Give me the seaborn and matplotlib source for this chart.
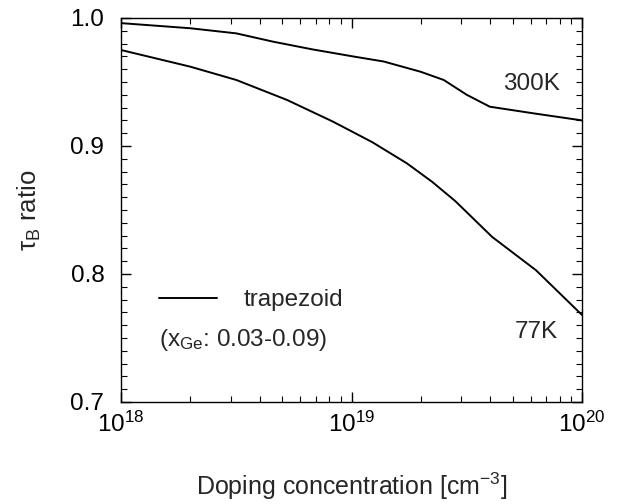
import numpy as np
import pandas as pd
import matplotlib
matplotlib.use("Agg")
import matplotlib.pyplot as plt
import seaborn as sns
from matplotlib.lines import Line2D
from matplotlib.ticker import LogLocator, MultipleLocator

# Data (log10 of doping, tau_B ratio)
log_dop_300 = [18.0, 18.30, 18.50, 18.66, 18.83, 19.006, 19.14, 19.30, 19.40, 19.50, 19.60, 19.79, 20.0]
ratio_300 = [0.996, 0.992, 0.988, 0.9815, 0.9755, 0.970, 0.966, 0.958, 0.9516, 0.940, 0.9307, 0.9255, 0.920]
log_dop_77 = [18.0, 18.30, 18.50, 18.72, 18.92, 19.09, 19.24, 19.35, 19.45, 19.61, 19.80, 20.0]
ratio_77 = [0.975, 0.962, 0.9516, 0.936, 0.919, 0.903, 0.8865, 0.872, 0.857, 0.829, 0.803, 0.768]

df = pd.concat([
    pd.DataFrame({"doping": 10.0 ** np.array(log_dop_300), "ratio": ratio_300, "T": "300K"}),
    pd.DataFrame({"doping": 10.0 ** np.array(log_dop_77), "ratio": ratio_77, "T": "77K"}),
])

sns.set_theme(style="ticks")
plt.rcParams["font.family"] = ["Liberation Sans", "DejaVu Sans"]
plt.rcParams["mathtext.fontset"] = "custom"
plt.rcParams["mathtext.rm"] = "Liberation Sans"
plt.rcParams["mathtext.it"] = "Liberation Sans:italic"

fig = plt.figure(figsize=(6.22, 5.04), dpi=100)
ax = fig.add_axes([121/622, 1 - 402/504, 461/622, 384/504])

sns.lineplot(data=df, x="doping", y="ratio", units="T", estimator=None,
             color="black", linewidth=1.4, ax=ax, legend=False, sort=False)

ax.set_xscale("log")
ax.set_xlim(1e18, 1e20)
ax.set_ylim(0.7, 1.0)
ax.set_yticks([0.7, 0.8, 0.9, 1.0])
ax.set_yticklabels(["0.7", "0.8", "0.9", "1.0"])
ax.yaxis.set_minor_locator(MultipleLocator(0.01))
ax.set_xticks([1e18, 1e19, 1e20])
ax.set_xticklabels([r"10$^{18}$", r"10$^{19}$", r"10$^{20}$"])
ax.xaxis.set_minor_locator(LogLocator(base=10, subs=np.arange(2, 10)))
ax.xaxis.set_minor_formatter(plt.NullFormatter())

ax.tick_params(which="both", direction="in", top=True, right=True, colors="black", labelsize=17.5)
ax.tick_params(which="major", length=7, width=1)
ax.tick_params(which="minor", length=4, width=0.8)
ax.tick_params(axis="x", which="major", pad=7)
ax.tick_params(axis="y", which="major", pad=12)
for s in ax.spines.values():
    s.set_color("black")
    s.set_linewidth(1.0)

ax.set_xlabel(r"Doping concentration [cm$^{-3}$]", fontsize=18, labelpad=24)
ax.set_ylabel(r"τ$_\mathrm{B}$ ratio", fontsize=18.5, labelpad=20)


def px(x, y):
    return ((x - 121) / 461, (402 - y) / 384)


ax.text(*px(532, 84), "300K", transform=ax.transAxes, fontsize=17.5, ha="center", va="center")
ax.text(*px(536, 332), "77K", transform=ax.transAxes, fontsize=17.5, ha="center", va="center")

handle = Line2D([], [], color="black", linewidth=1.4)
ax.legend([handle], ["trapezoid"], loc="center left", bbox_to_anchor=px(159, 300),
          frameon=False, borderpad=0, borderaxespad=0, handlelength=2.4,
          handletextpad=1.1, fontsize=17.5)
ax.text(*px(159, 340), r"(x$_\mathrm{Ge}$: 0.03-0.09)", transform=ax.transAxes,
        fontsize=17.5, ha="left", va="center")

fig.savefig("out.png", dpi=100, facecolor="white")
